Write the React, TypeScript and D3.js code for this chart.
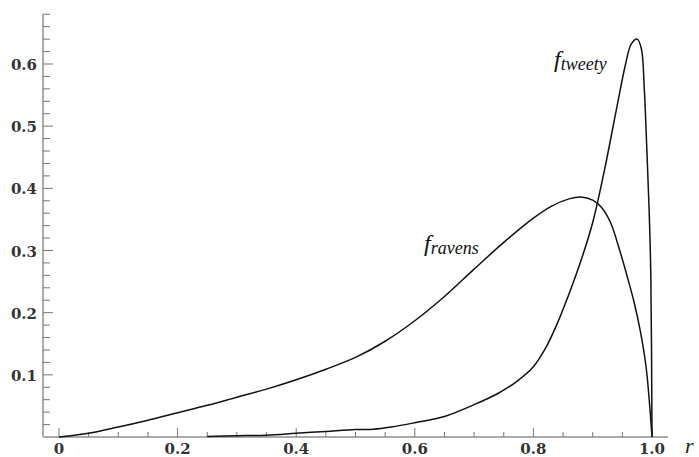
import * as d3 from 'd3';
import React, { useRef, useEffect } from 'react';

// values
const ravensR = [0, 0.05, 0.1, 0.15, 0.2, 0.25, 0.3, 0.35, 0.4, 0.45, 0.5, 0.55, 0.6, 0.65, 0.7, 0.75, 0.8, 0.83, 0.86, 0.88, 0.9, 0.915, 0.93, 0.945, 0.96, 0.97, 0.98, 0.99, 1.0];
const ravensF = [0, 0.006, 0.016, 0.027, 0.039, 0.051, 0.064, 0.077, 0.092, 0.109, 0.128, 0.154, 0.187, 0.226, 0.27, 0.313, 0.352, 0.371, 0.383, 0.386, 0.381, 0.369, 0.345, 0.302, 0.252, 0.216, 0.172, 0.113, 0];

const tweetyR = [0.25, 0.3, 0.35, 0.4, 0.45, 0.5, 0.53, 0.56, 0.6, 0.65, 0.7, 0.74, 0.77, 0.8, 0.82, 0.84, 0.86, 0.88, 0.9, 0.92, 0.94, 0.955, 0.965, 0.975, 0.982, 0.987, 0.991, 0.995, 0.998, 1.0];
const tweetyF = [0.001, 0.002, 0.003, 0.006, 0.009, 0.012, 0.0125, 0.016, 0.023, 0.033, 0.052, 0.07, 0.088, 0.113, 0.142, 0.182, 0.23, 0.283, 0.345, 0.43, 0.527, 0.598, 0.632, 0.64, 0.625, 0.56, 0.47, 0.37, 0.26, 0];

const xTicks = [0, 0.2, 0.4, 0.6, 0.8, 1.0];
const xTickLabels = ['0', '0.2', '0.4', '0.6', '0.8', '1.0'];
const yTicks = [0.1, 0.2, 0.3, 0.4, 0.5, 0.6];
const yTickLabels = ['0.1', '0.2', '0.3', '0.4', '0.5', '0.6'];

function App() {
    const ref = useRef(null);
    const width = 699, height = 457;

    useEffect(() => {
        const svg = d3.select(ref.current);
        svg.selectAll('*').remove();

        const x = d3.scaleLinear().domain([0, 1]).range([59, 652]);
        const y = d3.scaleLinear().domain([0, 0.6]).range([437, 64]);
        const xMin = -0.027, xMax = 1.027, yMax = 0.68;

        const axisColor = '#aaa';
        const tickColor = '#777';
        const labelFont = 'DejaVu Serif';

        // y axis
        svg.append('line')
            .attr('x1', x(xMin)).attr('x2', x(xMin))
            .attr('y1', y(0)).attr('y2', y(yMax))
            .attr('stroke', axisColor).attr('stroke-width', 2);
        const yMinor = d3.range(1, 35).map(i => i * 0.02).filter(v => v <= yMax + 1e-9);
        svg.append('g').selectAll('line').data(yMinor).enter().append('line')
            .attr('x1', x(xMin)).attr('y1', d => y(d)).attr('y2', d => y(d))
            .attr('x2', d => x(xMin) + (Math.abs(d * 10 - Math.round(d * 10)) < 1e-6 ? 10 : 7))
            .attr('stroke', tickColor).attr('stroke-width', 1);
        svg.append('g').selectAll('text').data(yTicks).enter().append('text')
            .attr('x', 37).attr('y', d => y(d) + 6)
            .attr('text-anchor', 'end')
            .attr('font-family', labelFont).attr('font-weight', 'bold').attr('font-size', 15)
            .attr('fill', '#333')
            .text((d, i) => yTickLabels[i]);

        // x axis
        svg.append('line')
            .attr('x1', x(xMin)).attr('x2', x(xMax))
            .attr('y1', y(0)).attr('y2', y(0))
            .attr('stroke', axisColor).attr('stroke-width', 2);
        const xMinor = d3.range(0, 21).map(i => i * 0.05);
        svg.append('g').selectAll('line').data(xMinor).enter().append('line')
            .attr('x1', d => x(d)).attr('x2', d => x(d)).attr('y1', y(0))
            .attr('y2', d => y(0) - (Math.abs(d * 5 - Math.round(d * 5)) < 1e-6 ? 9 : 5))
            .attr('stroke', tickColor).attr('stroke-width', 1);
        svg.append('g').selectAll('text').data(xTicks).enter().append('text')
            .attr('x', d => x(d)).attr('y', 454)
            .attr('text-anchor', 'middle')
            .attr('font-family', labelFont).attr('font-weight', 'bold').attr('font-size', 15)
            .attr('fill', '#333')
            .text((d, i) => xTickLabels[i]);

        svg.append('text')
            .attr('x', 685).attr('y', 453)
            .attr('font-family', 'Liberation Serif').attr('font-style', 'italic').attr('font-size', 22)
            .attr('fill', '#222')
            .text('r');

        // curves
        const line = d3.line<[number, number]>()
            .x(d => x(d[0]))
            .y(d => y(d[1]))
            .curve(d3.curveCatmullRom.alpha(0.5));

        svg.append('path')
            .attr('d', line(ravensR.map((r, i) => [r, ravensF[i]] as [number, number])))
            .attr('fill', 'none').attr('stroke', '#111').attr('stroke-width', 1.5);
        svg.append('path')
            .attr('d', line(tweetyR.map((r, i) => [r, tweetyF[i]] as [number, number])))
            .attr('fill', 'none').attr('stroke', '#111').attr('stroke-width', 1.5);

        // labels
        const addLabel = (lx, ly, sub) => {
            const t = svg.append('text')
                .attr('x', lx).attr('y', ly)
                .attr('font-family', 'Liberation Serif').attr('font-style', 'italic')
                .attr('fill', '#111');
            t.append('tspan').attr('font-size', 24).text('f');
            t.append('tspan').attr('font-size', 18).attr('dy', 3).text(sub);
        };
        addLabel(424, 251, 'ravens');
        addLabel(554, 67, 'tweety');
    }, []);

    return (
        <div style={{ position: 'absolute', left: 0, top: 0, width, height }}>
            <svg ref={ref} width={width} height={height} style={{ display: 'block' }} />
        </div>
    );
}

export default App;
